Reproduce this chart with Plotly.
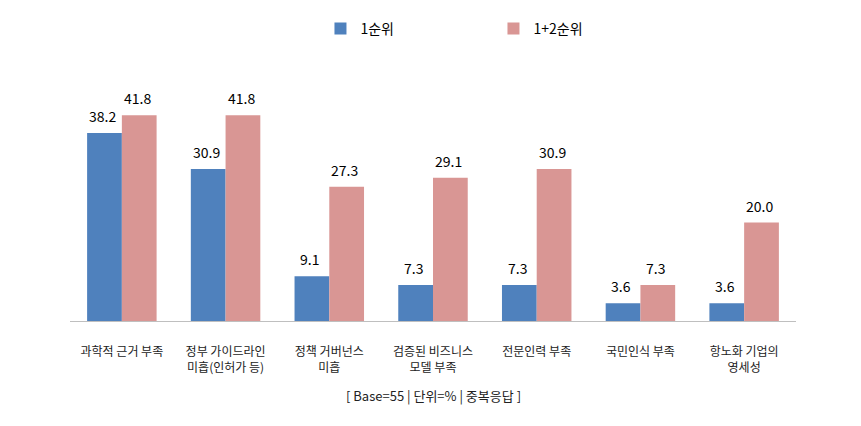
import plotly.graph_objects as go

categories = ["과학적 근거 부족", "정부 가이드라인<br>미흡(인허가 등)", "정책 거버넌스<br>미흡",
              "검증된 비즈니스<br>모델 부족", "전문인력 부족", "국민인식 부족", "항노화 기업의<br>영세성"]
rank1 = [38.2, 30.9, 9.1, 7.3, 7.3, 3.6, 3.6]
rank12 = [41.8, 41.8, 27.3, 29.1, 30.9, 7.3, 20.0]
series_names = ["1순위", "1+2순위"]
colors = ["#4F81BD", "#D99694"]
footer = "[ Base=55 | 단위=% | 중복응답 ]"

FONT = "Noto Sans CJK KR"

fig = go.Figure()
for name, vals, col in zip(series_names, [rank1, rank12], colors):
    fig.add_trace(go.Bar(
        x=categories, y=vals, name=name, marker=dict(color=col, line=dict(width=0)),
    ))

# data labels above each bar
offsets = [-17.5, 17.5]
for vals, dx in zip([rank1, rank12], offsets):
    for c, v in zip(categories, vals):
        fig.add_annotation(x=c, y=v, text=f"{v:.1f}", showarrow=False,
                           xanchor="center", yanchor="bottom", xshift=dx - 2, yshift=5,
                           font=dict(family=FONT, size=14, color="#000000"))

fig.update_layout(
    width=861, height=426,
    margin=dict(l=70, r=65, t=75, b=105),
    paper_bgcolor="white", plot_bgcolor="white",
    barmode="group", bargap=0.33, bargroupgap=0,
    font=dict(family=FONT, size=12, color="#222222"),
    legend=dict(orientation="h", x=0.345, xanchor="left", y=1.187, yanchor="middle",
                yref="paper", entrywidth=128, itemwidth=30,
                font=dict(family=FONT, size=14, color="#000000")),
)
fig.update_xaxes(showline=True, linecolor="#BFBFBF", linewidth=1, ticks="",
                 ticklabelstandoff=20,
                 tickfont=dict(family=FONT, size=12, color="#222222"), showgrid=False)
fig.update_yaxes(range=[0, 50], visible=False, showgrid=False)
fig.add_annotation(text=footer, xref="paper", yref="paper", x=0.5, y=-0.302,
                   xanchor="center", yanchor="middle", showarrow=False,
                   font=dict(family=FONT, size=13, color="#222222"))
fig.write_html("out.html")
